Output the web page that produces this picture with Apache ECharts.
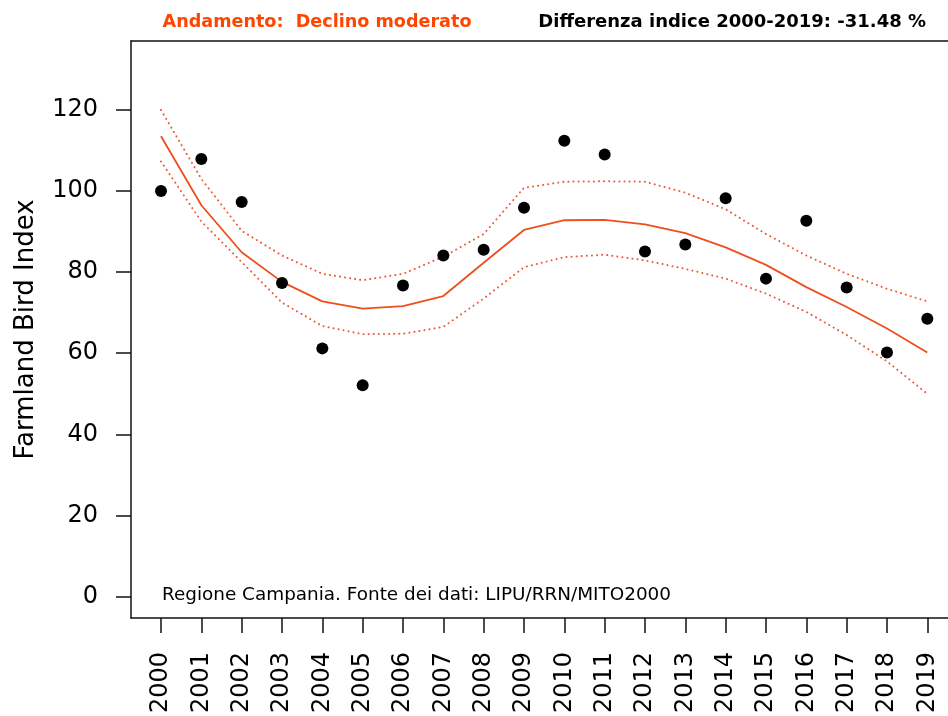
<!DOCTYPE html>
<html>
<head>
<meta charset="utf-8">
<script src="https://cdn.jsdelivr.net/npm/echarts@6/dist/echarts.min.js"></script>
<style>
  html, body { margin: 0; padding: 0; background: #fff; }
  #chart { width: 948px; height: 716px; }
</style>
</head>
<body>
<div id="chart"></div>
<script>
// anni e valori
const years = [2000, 2001, 2002, 2003, 2004, 2005, 2006, 2007, 2008, 2009,
               2010, 2011, 2012, 2013, 2014, 2015, 2016, 2017, 2018, 2019];
const indexValues = [100, 107.9, 97.3, 77.3, 61.2, 52.1, 76.7, 84.1, 85.5, 95.9,
                     112.4, 109.0, 85.1, 86.8, 98.2, 78.4, 92.7, 76.2, 60.2, 68.5];
const trend = [113.5, 96.5, 84.9, 77.6, 72.8, 71.0, 71.6, 74.1, 82.3, 90.4,
               92.8, 92.9, 91.8, 89.6, 86.1, 81.8, 76.3, 71.4, 66.1, 60.2];
const upper = [120.0, 103.0, 90.2, 84.1, 79.6, 78.0, 79.6, 83.8, 89.4, 100.8,
               102.3, 102.4, 102.3, 99.6, 95.5, 89.4, 84.1, 79.6, 75.9, 72.8];
const lower = [107.3, 92.5, 82.5, 72.5, 66.7, 64.7, 64.8, 66.5, 73.5, 81.2,
               83.7, 84.3, 82.9, 80.8, 78.4, 74.7, 70.2, 64.5, 58.0, 50.0];
const yTicks = [0, 20, 40, 60, 80, 100, 120];

const FONT = 'DejaVu Sans';
const ORANGE = '#ee4f1c';
const AXIS = '#111';

function pairs(values) {
  return years.map((y, i) => [y, values[i]]);
}

const chart = echarts.init(document.getElementById('chart'));

const option = {
  animation: false,
  backgroundColor: '#fff',
  grid: { left: 131, top: 41, right: 0, bottom: 94 },
  xAxis: [
    {
      type: 'value',
      min: 1999.256,
      max: 2019.513,
      splitLine: { show: false },
      axisLine: { onZero: false, lineStyle: { color: AXIS, width: 1.5 } },
      axisTick: { customValues: years, length: 15, lineStyle: { color: AXIS, width: 1.5 } },
      axisLabel: {
        customValues: years,
        rotate: 90,
        margin: 34,
        color: '#000',
        fontFamily: FONT,
        fontSize: 24,
        formatter: v => String(v)
      }
    },
    {
      // bordo superiore
      type: 'value',
      position: 'top',
      min: 1999.256,
      max: 2019.513,
      splitLine: { show: false },
      axisLine: { show: true, onZero: false, lineStyle: { color: AXIS, width: 1.5 } },
      axisTick: { show: false },
      axisLabel: { show: false }
    }
  ],
  yAxis: {
    type: 'value',
    min: -5.27,
    max: 137.0,
    splitLine: { show: false },
    axisLine: { show: true, onZero: false, lineStyle: { color: AXIS, width: 1.5 } },
    axisTick: { show: true, customValues: yTicks, length: 15, lineStyle: { color: AXIS, width: 1.5 } },
    axisLabel: {
      customValues: yTicks,
      margin: 33,
      padding: [4, 0, 0, 0],
      color: '#000',
      fontFamily: FONT,
      fontSize: 24
    },
    name: 'Farmland Bird Index',
    nameLocation: 'middle',
    nameRotate: 90,
    nameGap: 92,
    nameTextStyle: { color: '#000', fontFamily: FONT, fontSize: 26 }
  },
  graphic: [
    {
      type: 'text', x: 317, y: 22,
      style: {
        text: 'Andamento:  Declino moderato', fill: '#ff4500',
        font: 'bold 17.6px "DejaVu Sans"', align: 'center', verticalAlign: 'middle'
      }
    },
    {
      type: 'text', x: 926, y: 22,
      style: {
        text: 'Differenza indice 2000-2019: -31.48 %', fill: '#000',
        font: 'bold 18px "DejaVu Sans"', align: 'right', verticalAlign: 'middle'
      }
    },
    {
      type: 'text', x: 162, y: 595,
      style: {
        text: 'Regione Campania. Fonte dei dati: LIPU/RRN/MITO2000', fill: '#000',
        font: '18.4px "DejaVu Sans"', align: 'left', verticalAlign: 'middle'
      }
    }
  ],
  series: [
    {
      name: 'Upper', type: 'line', data: pairs(upper), symbol: 'none',
      lineStyle: { color: '#ec5a36', width: 2, type: [0.1, 5], cap: 'round' }
    },
    {
      name: 'Lower', type: 'line', data: pairs(lower), symbol: 'none',
      lineStyle: { color: '#ec5a36', width: 2, type: [0.1, 5], cap: 'round' }
    },
    {
      name: 'Trend', type: 'line', data: pairs(trend), symbol: 'none',
      lineStyle: { color: ORANGE, width: 1.8 }
    },
    {
      name: 'Indice', type: 'scatter', data: pairs(indexValues),
      symbol: 'circle', symbolSize: 12, z: 5,
      itemStyle: { color: '#000', opacity: 1 }
    }
  ]
};

chart.setOption(option);
</script>
</body>
</html>
